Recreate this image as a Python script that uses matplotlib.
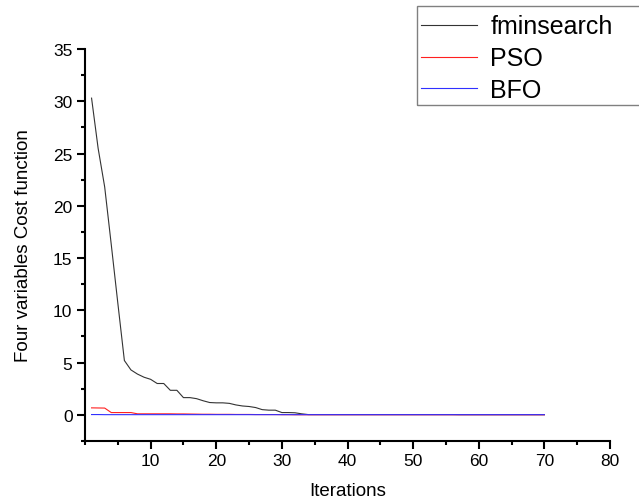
import matplotlib
matplotlib.use("Agg")
import matplotlib.pyplot as plt
from matplotlib.patches import Rectangle
from matplotlib.ticker import MultipleLocator

plt.rcParams['font.family'] = ['Liberation Sans', 'DejaVu Sans']

iterations = list(range(1, 71))
fminsearch = [30.3, 25.5, 21.8, 16.3, 10.7, 5.2, 4.3, 3.9, 3.6, 3.4,
              3.0, 3.0, 2.35, 2.35, 1.65, 1.65, 1.55, 1.35, 1.18, 1.15,
              1.15, 1.1, 0.95, 0.85, 0.8, 0.7, 0.5, 0.45, 0.45, 0.22,
              0.22, 0.2, 0.1, 0.03, 0.03, 0.03, 0.03, 0.03, 0.03, 0.03,
              0.03, 0.03, 0.03, 0.03, 0.03, 0.03, 0.03, 0.03, 0.03, 0.03,
              0.03, 0.03, 0.03, 0.03, 0.03, 0.03, 0.02, 0.02, 0.02, 0.02,
              0.02, 0.02, 0.02, 0.02, 0.02, 0.02, 0.02, 0.02, 0.02, 0.02]
pso = [0.67, 0.66, 0.65, 0.22, 0.22, 0.22, 0.22, 0.1, 0.1, 0.1,
       0.1, 0.1, 0.1, 0.09, 0.09, 0.08, 0.07, 0.06, 0.06, 0.05,
       0.05, 0.05, 0.04, 0.04, 0.04, 0.03, 0.03, 0.03, 0.03, 0.02,
       0.02, 0.01, 0.01, 0.01, 0.01, 0.01, 0.01, 0.01, 0.01, 0.01,
       0.01, 0.01, 0.01, 0.01, 0.01, 0.01, 0.01, 0.01, 0.01, 0.01,
       0.01, 0.01, 0.01, 0.01, 0.01, 0.01, 0.01, 0.01, 0.01, 0.01,
       0.01, 0.01, 0.01, 0.01, 0.01, 0.01, 0.01, 0.01, 0.01, 0.01]
bfo = [0.03, 0.03, 0.02, 0.02, 0.02, 0.02, 0.02, 0.02, 0.02, 0.02,
       0.02, 0.02, 0.02, 0.02, 0.02, 0.02, 0.02, 0.02, 0.02, 0.02,
       0.02, 0.02, 0.02, 0.02, 0.02, 0.02, 0.02, 0.02, 0.02, 0.02,
       0.02, 0.02, 0.02, 0.02, 0.02, 0.02, 0.02, 0.02, 0.02, 0.02,
       0.02, 0.02, 0.02, 0.02, 0.02, 0.02, 0.02, 0.02, 0.02, 0.02,
       0.02, 0.02, 0.02, 0.02, 0.02, 0.02, 0.02, 0.02, 0.02, 0.02,
       0.02, 0.02, 0.02, 0.02, 0.02, 0.02, 0.02, 0.02, 0.02, 0.02]
series_names = ["fminsearch", "PSO", "BFO"]

W, H = 639, 502
fig = plt.figure(figsize=(W / 100, H / 100), dpi=100)
ax = fig.add_axes([85 / W, 1 - 442 / H, (610 - 85) / W, (442 - 50) / H])

ax.plot(iterations, fminsearch, color='#333333', lw=0.8, label=series_names[0])
ax.plot(iterations, pso, color='#ff2020', lw=0.8, label=series_names[1])
ax.plot(iterations, bfo, color='#3030ff', lw=0.8, label=series_names[2])

ax.set_xlim(0, 80)
ax.set_ylim(-2.5, 35)
ax.xaxis.set_minor_locator(MultipleLocator(5))
ax.yaxis.set_minor_locator(MultipleLocator(2.5))
ax.set_xticks(range(10, 81, 10))
ax.set_yticks(range(0, 36, 5))

for s in ['top', 'right']:
    ax.spines[s].set_visible(False)
for s in ['left', 'bottom']:
    ax.spines[s].set_linewidth(1.5)
ax.tick_params(which='major', direction='out', length=5.5, width=1.5,
               labelsize=12.5, pad=3.5, colors='black')
ax.tick_params(which='minor', direction='out', length=3, width=1.5)

ax.set_xlabel("Iterations", fontsize=13.5, labelpad=10)
ax.set_ylabel("Four variables Cost function", fontsize=13.5, labelpad=15)

leg = fig.legend(loc='upper left', bbox_to_anchor=(408 / W, 1 - 3 / H),
                 fontsize=18, frameon=False, handlelength=2.25,
                 handletextpad=0.55, labelspacing=0.31, borderpad=0.0)
for line in leg.get_lines():
    line.set_linewidth(0.8)
fig.patches.append(Rectangle((417 / W, 1 - 106 / H), (660 - 417) / W, (106 - 7) / H,
                             transform=fig.transFigure, fill=False,
                             edgecolor='#808080', lw=1.0))

fig.savefig("out.png", dpi=100)
